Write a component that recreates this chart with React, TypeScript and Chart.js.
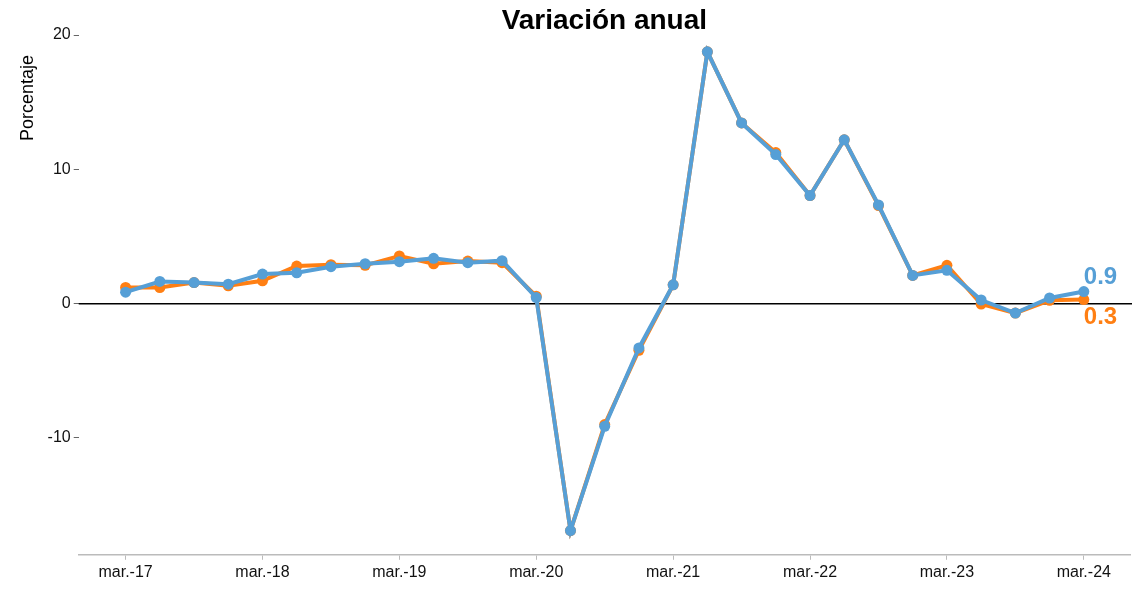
import React, { useEffect, useRef } from "react";
import { Chart, registerables } from "chart.js";

Chart.register(...registerables);

const quarters = [
  "mar.-17", "jun.-17", "sep.-17", "dic.-17",
  "mar.-18", "jun.-18", "sep.-18", "dic.-18",
  "mar.-19", "jun.-19", "sep.-19", "dic.-19",
  "mar.-20", "jun.-20", "sep.-20", "dic.-20",
  "mar.-21", "jun.-21", "sep.-21", "dic.-21",
  "mar.-22", "jun.-22", "sep.-22", "dic.-22",
  "mar.-23", "jun.-23", "sep.-23", "dic.-23",
  "mar.-24",
];

const orangeSeries = [
  1.2, 1.2, 1.57, 1.33, 1.7, 2.8, 2.9, 2.85, 3.55, 2.97, 3.17, 3.05,
  0.55, -16.9, -9.0, -3.47, 1.4, 18.75, 13.45, 11.25, 8.05, 12.2, 7.3, 2.1,
  2.85, -0.03, -0.7, 0.25, 0.3,
];

const blueSeries = [
  0.85, 1.65, 1.57, 1.45, 2.2, 2.3, 2.75, 2.97, 3.12, 3.37, 3.05, 3.2,
  0.45, -16.9, -9.13, -3.3, 1.4, 18.75, 13.45, 11.1, 8.05, 12.2, 7.35, 2.1,
  2.48, 0.27, -0.7, 0.42, 0.9,
];

const xTickIdx = [0, 4, 8, 12, 16, 20, 24, 28];
const yTicks = [-10, 0, 10, 20];

const BLUE = "#569fd6";
const ORANGE = "#ff7f13";
const FONT = "'Liberation Sans', Arial, sans-serif";

export default function App() {
  const ref = useRef<HTMLCanvasElement | null>(null);

  useEffect(() => {
    if (!ref.current) return;

    const overlay = {
      id: "overlay",
      beforeDatasetsDraw(chart: any) {
        const { ctx, chartArea, scales } = chart;
        const y0 = scales.y.getPixelForValue(0);
        ctx.save();
        ctx.strokeStyle = "#000";
        ctx.lineWidth = 1.5;
        ctx.beginPath();
        ctx.moveTo(chartArea.left, y0);
        ctx.lineTo(chartArea.right + 2, y0);
        ctx.stroke();
        ctx.restore();
      },
      afterDatasetsDraw(chart: any) {
        const { ctx, scales } = chart;
        const last = quarters.length - 1;
        const x = scales.x.getPixelForValue(last);
        ctx.save();
        ctx.font = `bold 24px ${FONT}`;
        ctx.textAlign = "left";
        ctx.textBaseline = "middle";
        ctx.fillStyle = BLUE;
        ctx.fillText(blueSeries[last].toFixed(1), x, scales.y.getPixelForValue(blueSeries[last]) - 14);
        ctx.fillStyle = ORANGE;
        ctx.fillText(orangeSeries[last].toFixed(1), x, scales.y.getPixelForValue(orangeSeries[last]) + 18);
        ctx.restore();
      },
    };

    const makeSet = (label: string, values: number[], color: string) => ({
      label,
      data: values.map((v, i) => ({ x: i, y: v })),
      borderColor: color,
      backgroundColor: color,
      borderWidth: 4,
      pointRadius: 5.5,
      pointBorderWidth: 0,
      pointHoverRadius: 5.5,
      tension: 0,
    });

    const chart = new Chart(ref.current, {
      type: "line",
      data: {
        // first dataset is painted last (on top)
        datasets: [
          makeSet("Serie azul", blueSeries, BLUE),
          makeSet("Serie naranja", orangeSeries, ORANGE),
        ],
      },
      options: {
        animation: false,
        responsive: true,
        maintainAspectRatio: false,
        layout: { padding: { left: 17, right: 14, top: 0, bottom: 10 } },
        plugins: {
          legend: { display: false },
          tooltip: { enabled: false },
          title: {
            display: true,
            text: "Variación anual",
            fullSize: false,
            color: "#000",
            font: { family: FONT, size: 28, weight: "bold", lineHeight: 1.0 },
            padding: { top: 7, bottom: 0 },
          },
        },
        scales: {
          x: {
            type: "linear",
            min: -1.37,
            max: 29.35,
            afterBuildTicks: (scale: any) => {
              scale.ticks = xTickIdx.map((v) => ({ value: v }));
            },
            ticks: {
              callback: (v: any) => quarters[Number(v)] ?? "",
              color: "#111",
              font: { family: FONT, size: 16 },
              padding: 3,
              maxRotation: 0,
              autoSkip: false,
            },
            grid: { drawOnChartArea: false, drawTicks: true, tickLength: 5, color: "#bbb" },
            border: { display: true, color: "#bbb", width: 1.5 },
          },
          y: {
            type: "linear",
            min: -18.7,
            max: 20,
            afterBuildTicks: (scale: any) => {
              scale.ticks = yTicks.map((v) => ({ value: v }));
            },
            ticks: {
              color: "#111",
              font: { family: FONT, size: 16 },
              padding: 3,
            },
            grid: { drawOnChartArea: false, drawTicks: true, tickLength: 5, color: "#666" },
            border: { display: false },
            title: {
              display: true,
              text: "Porcentaje    ",
              align: "end",
              color: "#000",
              font: { family: FONT, size: 18 },
              padding: { top: 0, bottom: 6 },
            },
          },
        },
      },
      plugins: [overlay],
    });

    return () => chart.destroy();
  }, []);

  return (
    <div style={{ position: "fixed", left: 0, top: 0, width: 1144, height: 595, background: "#fff" }}>
      <canvas ref={ref} />
    </div>
  );
}
